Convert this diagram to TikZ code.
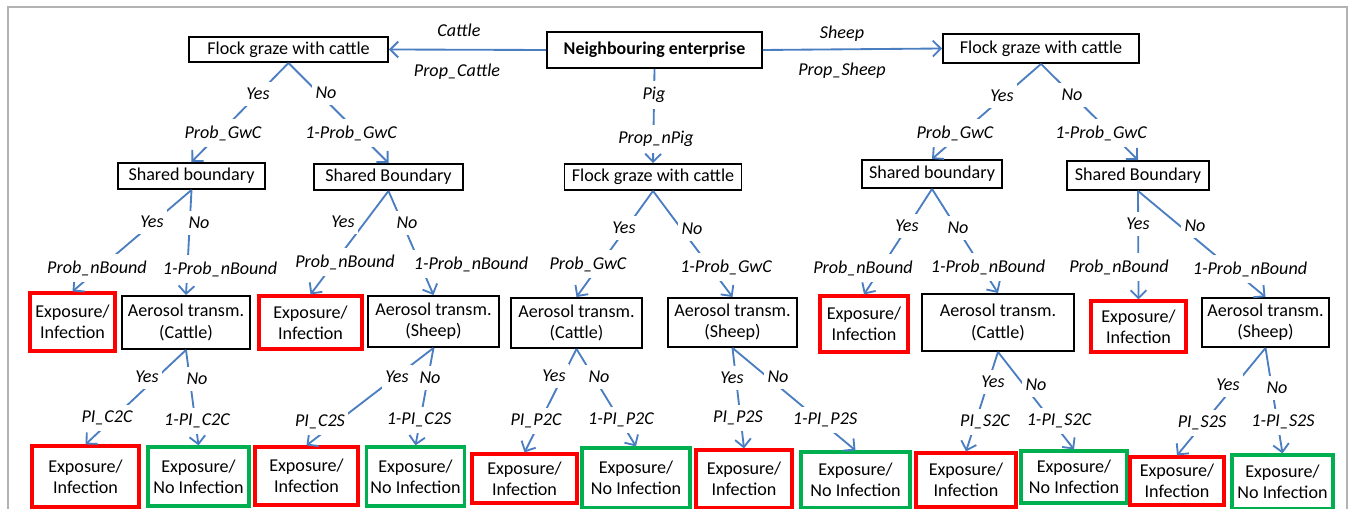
\documentclass[tikz,border=0pt]{standalone}
\usepackage{fontspec}
\setmainfont{Carlito}
\usetikzlibrary{arrows.meta}
\definecolor{edgeblue}{RGB}{74,126,193}
\definecolor{infred}{RGB}{255,0,0}
\definecolor{noinfgreen}{RGB}{0,176,80}
\tikzset{
  decision/.style={draw, line width=1.1pt, align=center, inner sep=1pt,
    font=\fontsize{10.3}{12}\selectfont},
  infect/.style={decision, draw=infred, line width=1.8pt},
  noinfect/.style={decision, draw=noinfgreen, line width=1.8pt},
  branch/.style={draw=edgeblue, line width=1.05pt,
    -{Straight Barb[length=4.5pt,width=9pt]}},
  lbl/.style={fill=white, inner xsep=2pt, inner ysep=3.5pt,
    font=\fontsize{10.3}{12}\selectfont\itshape}
}

\begin{document}
\begin{tikzpicture}[x=0.02cm, y=-0.02cm]
            \useasboundingbox (0,0) rectangle (1356,509);
            \draw[black!30, line width=0.8pt] (8,515) -- (8,7) -- (1347,7) -- (1347,515);

            % boxes
            \node[decision, font=\fontsize{10.2}{12}\selectfont\bfseries, minimum width=4.3cm, minimum height=0.72cm] (nbr) at (654.5,50) {Neighbouring enterprise};
            \node[decision, minimum width=3.98cm, minimum height=0.5cm] (flockC) at (288.5,49.5) {Flock graze with cattle};
            \node[decision, minimum width=3.92cm, minimum height=0.58cm] (flockS) at (1041,48.5) {Flock graze with cattle};
            \node[decision, minimum width=3.54cm, minimum height=0.52cm] (flockP) at (653,177) {Flock graze with cattle};

            \node[decision, minimum width=2.94cm, minimum height=0.52cm] (bndCy) at (191.5,176) {Shared boundary};
            \node[decision, minimum width=2.98cm, minimum height=0.52cm] (bndCn) at (388.5,177) {Shared Boundary};
            \node[decision, minimum width=2.8cm, minimum height=0.56cm] (bndSy) at (932,174) {Shared boundary};
            \node[decision, minimum width=2.84cm, minimum height=0.58cm] (bndSn) at (1138,175.5) {Shared Boundary};

            \node[infect, minimum width=1.7cm, minimum height=1.16cm] (infCy) at (72.5,322) {Exposure/\\Infection};
            \node[decision, minimum width=2.56cm, minimum height=1.06cm] (aerCy) at (186,322.5) {Aerosol transm.\\(Cattle)};
            \node[infect, minimum width=2.06cm, minimum height=1.06cm] (infCn) at (310.5,322.5) {Exposure/\\Infection};
            \node[decision, minimum width=2.62cm, minimum height=1.02cm] (aerCn) at (433.5,321.5) {Aerosol transm.\\(Sheep)};
            \node[decision, minimum width=2.62cm, minimum height=1cm] (aerPy) at (576.5,323) {Aerosol transm.\\(Cattle)};
            \node[decision, minimum width=2.58cm, minimum height=0.98cm] (aerPn) at (732.5,322.5) {Aerosol transm.\\(Sheep)};
            \node[infect, minimum width=1.76cm, minimum height=1.12cm] (infSy) at (864,324) {Exposure/\\Infection};
            \node[decision, minimum width=3.04cm, minimum height=1.14cm] (aerSy) at (998,322.5) {Aerosol transm.\\(Cattle)};
            \node[infect, minimum width=1.9cm, minimum height=1.02cm] (infSn) at (1138.5,326.5) {Exposure/\\Infection};
            \node[decision, minimum width=2.54cm, minimum height=0.98cm] (aerSn) at (1265.5,322.5) {Aerosol transm.\\(Sheep)};

            \node[infect, minimum width=2.14cm, minimum height=1.22cm] (expCy) at (85.5,476.5) {Exposure/\\Infection};
            \node[noinfect, minimum width=2.02cm, minimum height=1.18cm] (noCy) at (198.5,476.5) {Exposure/\\No Infection};
            \node[infect, minimum width=2.06cm, minimum height=1.16cm] (expCn) at (306.5,476) {Exposure/\\Infection};
            \node[noinfect, minimum width=1.96cm, minimum height=1.18cm] (noCn) at (415.5,476.5) {Exposure/\\No Infection};
            \node[infect, minimum width=2.1cm, minimum height=0.98cm] (expPy) at (524.5,478.5) {Exposure/\\Infection};
            \node[noinfect, minimum width=2.16cm, minimum height=1.2cm] (noPy) at (636,478) {Exposure/\\No Infection};
            \node[infect, minimum width=1.92cm, minimum height=1.16cm] (expPn) at (744,479) {Exposure/\\Infection};
            \node[noinfect, minimum width=2.18cm, minimum height=1.12cm] (noPn) at (855.5,480) {Exposure/\\No Infection};
            \node[infect, minimum width=2cm, minimum height=1.08cm] (expSy) at (966,480) {Exposure/\\Infection};
            \node[noinfect, minimum width=2.12cm, minimum height=1.04cm] (noSy) at (1074,477) {Exposure/\\No Infection};
            \node[infect, minimum width=1.88cm, minimum height=0.96cm] (expSn) at (1177,481) {Exposure/\\Infection};
            \node[noinfect, minimum width=2.02cm, minimum height=1.08cm] (noSn) at (1282.5,482) {Exposure/\\No Infection};

            % connectors
            \draw[branch] (nbr.west) -- (flockC.east);
            \draw[branch] (nbr.east) -- (flockS.west);
            \draw[branch] (nbr.south) -- (flockP.north);

            \draw[branch] (flockC.south) -- (bndCy.north);
            \draw[branch] (flockC.south) -- (bndCn.north);
            \draw[branch] (flockS.south) -- (bndSy.north);
            \draw[branch] (flockS.south) -- (bndSn.north);
            \draw[branch] (flockP.south) -- (aerPy.north);
            \draw[branch] (flockP.south) -- (aerPn.north);

            \draw[branch] (bndCy.south) -- (infCy.north);
            \draw[branch] (bndCy.south) -- (aerCy.north);
            \draw[branch] (bndCn.south) -- (infCn.north);
            \draw[branch] (bndCn.south) -- (aerCn.north);
            \draw[branch] (bndSy.south) -- (infSy.north);
            \draw[branch] (bndSy.south) -- (aerSy.north);
            \draw[branch] (bndSn.south) -- (infSn.north);
            \draw[branch] (bndSn.south) -- (aerSn.north);

            \draw[branch] (aerCy.south) -- (expCy.north);
            \draw[branch] (aerCy.south) -- (noCy.north);
            \draw[branch] (aerCn.south) -- (expCn.north);
            \draw[branch] (aerCn.south) -- (noCn.north);
            \draw[branch] (aerPy.south) -- (expPy.north);
            \draw[branch] (aerPy.south) -- (noPy.north);
            \draw[branch] (aerPn.south) -- (expPn.north);
            \draw[branch] (aerPn.south) -- (noPn.north);
            \draw[branch] (aerSy.south) -- (expSy.north);
            \draw[branch] (aerSy.south) -- (noSy.north);
            \draw[branch] (aerSn.south) -- (expSn.north);
            \draw[branch] (aerSn.south) -- (noSn.north);

            % branch labels
            \node[lbl] (cattle) at (459,30) {Cattle};
            \node[lbl] (propC) at (457,72) {Prop\_Cattle};
            \node[lbl] (sheep) at (842,34) {Sheep};
            \node[lbl] (propS) at (842,71) {Prop\_Sheep};
            \node[lbl] (pig) at (654,95) {Pig};
            \node[lbl] (propP) at (656,139) {Prop\_nPig};

            \node[lbl] (yesFC) at (258,94) {Yes};
            \node[lbl] (probFC) at (223,133) {Prob\_GwC};
            \node[lbl] (noFC) at (326,93) {No};
            \node[lbl] (nprobFC) at (351,133) {1-Prob\_GwC};
            \node[lbl] (yesFS) at (1002,96) {Yes};
            \node[lbl] (probFS) at (955,133) {Prob\_GwC};
            \node[lbl] (noFS) at (1072,95) {No};
            \node[lbl] (nprobFS) at (1101,133) {1-Prob\_GwC};
            \node[lbl] (yesFP) at (624,228) {Yes};
            \node[lbl] (probFP) at (588,264) {Prob\_GwC};
            \node[lbl] (noFP) at (692,229) {No};
            \node[lbl] (nprobFP) at (726,267) {1-Prob\_GwC};

            \node[lbl] (yesBCy) at (152,222) {Yes};
            \node[lbl] (probBCy) at (97,268) {Prob\_nBound};
            \node[lbl] (noBCy) at (199,223) {No};
            \node[lbl] (nprobBCy) at (220,269) {1-Prob\_nBound};
            \node[lbl] (yesBCn) at (343,222) {Yes};
            \node[lbl] (probBCn) at (345,262) {Prob\_nBound};
            \node[lbl] (noBCn) at (407,223) {No};
            \node[lbl] (nprobBCn) at (471,264) {1-Prob\_nBound};
            \node[lbl] (yesBSy) at (907,226) {Yes};
            \node[lbl] (probBSy) at (863,268) {Prob\_nBound};
            \node[lbl] (noBSy) at (958,228) {No};
            \node[lbl] (nprobBSy) at (988,267) {1-Prob\_nBound};
            \node[lbl] (yesBSn) at (1138,224) {Yes};
            \node[lbl] (probBSn) at (1119,267) {Prob\_nBound};
            \node[lbl] (noBSn) at (1195,226) {No};
            \node[lbl] (nprobBSn) at (1250,269) {1-Prob\_nBound};

            \node[lbl] (yesACy) at (147,377) {Yes};
            \node[lbl] (piACy) at (107,418) {PI\_C2C};
            \node[lbl] (noACy) at (197,379) {No};
            \node[lbl] (npiACy) at (197,421) {1-PI\_C2C};
            \node[lbl] (yesACn) at (397,377) {Yes};
            \node[lbl] (piACn) at (320,422) {PI\_C2S};
            \node[lbl] (noACn) at (430,378) {No};
            \node[lbl] (npiACn) at (419,420) {1-PI\_C2S};
            \node[lbl] (yesAPy) at (554,376) {Yes};
            \node[lbl] (piAPy) at (536,421) {PI\_P2C};
            \node[lbl] (noAPy) at (599,377) {No};
            \node[lbl] (npiAPy) at (621,420) {1-PI\_P2C};
            \node[lbl] (yesAPn) at (732,378) {Yes};
            \node[lbl] (piAPn) at (738,418) {PI\_P2S};
            \node[lbl] (noAPn) at (778,377) {No};
            \node[lbl] (npiAPn) at (825,420) {1-PI\_P2S};
            \node[lbl] (yesASy) at (993,382) {Yes};
            \node[lbl] (piASy) at (985,422) {PI\_S2C};
            \node[lbl] (noASy) at (1036,385) {No};
            \node[lbl] (npiASy) at (1059,421) {1-PI\_S2C};
            \node[lbl] (yesASn) at (1228,385) {Yes};
            \node[lbl] (piASn) at (1202,423) {PI\_S2S};
            \node[lbl] (noASn) at (1277,388) {No};
            \node[lbl] (npiASn) at (1283,422) {1-PI\_S2S};
        \end{tikzpicture}
\end{document}
